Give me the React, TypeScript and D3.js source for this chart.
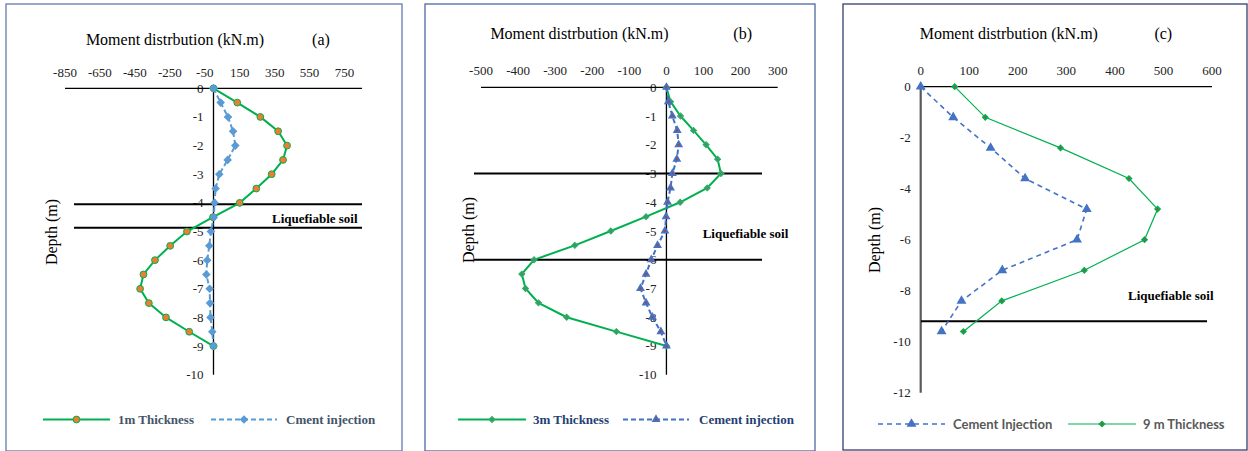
import React from "react";
import * as d3 from "d3";

// ---------- data ----------
const depthAB = [0, -0.5, -1, -1.5, -2, -2.5, -3, -3.5, -4, -4.5, -5, -5.5, -6, -6.5, -7, -7.5, -8, -8.5, -9];
const thick1m = [0, 136, 268, 370, 421, 398, 333, 245, 150, -3, -152, -248, -335, -401, -420, -370, -272, -139, 0];
const cementA = [0, 41, 83, 112, 125, 81, 33, 12, 6, 2, -15, -24, -36, -41, -22, -20, -17, -7, 0];
const thick3m = [0, 11, 38, 73, 107, 138, 147, 110, 37, -55, -150, -247, -357, -390, -380, -345, -269, -135, 0];
const cementB = [0, 5, 16, 29, 33, 28, 16, 11, 3, -1, -4, -24, -41, -55, -70, -55, -38, -15, 0];
const depthC = [0, -1.2, -2.4, -3.6, -4.8, -6, -7.2, -8.4, -9.6];
const cementC = [0, 67, 144, 215, 342, 322, 168, 84, 43];
const thick9m = [70, 133, 288, 429, 488, 461, 337, 167, 88];

const xTicksA = [-850, -650, -450, -250, -50, 150, 350, 550, 750];
const xTicksB = [-500, -400, -300, -200, -100, 0, 100, 200, 300];
const xTicksC = [0, 100, 200, 300, 400, 500, 600];
const yTicksAB = [0, -1, -2, -3, -4, -5, -6, -7, -8, -9, -10];
const yTicksC = [0, -2, -4, -6, -8, -10, -12];
const boundsA = [-4.05, -4.87];
const boundsB = [-3, -6];
const boundsC = [-9.2];

const SERIF = "Liberation Serif, DejaVu Serif, serif";
const SANS = "Lato, Open Sans, sans-serif";

type Marker = { kind: "circle" | "diamond" | "triangle"; r: number; fill: string; stroke?: string; dot?: string };
type Series = { name: string; x: number[]; y: number[]; color: string; width: number; dash?: string; marker: Marker };

function MarkerShape({ m, x, y }: { m: Marker; x: number; y: number }) {
  let path = "";
  let rot = 0;
  if (m.kind === "circle") path = d3.symbol(d3.symbolCircle, Math.PI * m.r * m.r)() as string;
  else if (m.kind === "diamond") {
    path = d3.symbol(d3.symbolSquare, 2 * m.r * m.r)() as string;
    rot = 45;
  } else path = d3.symbol(d3.symbolTriangle, m.r * m.r * 1.7)() as string;
  return (
    <g transform={`translate(${x},${y}) rotate(${rot})`}>
      <path d={path} fill={m.fill} stroke={m.stroke || "none"} strokeWidth={1} />
      {m.dot ? <circle r={1} fill={m.dot} /> : null}
    </g>
  );
}

type PanelProps = {
  frame: [number, number, number, number];
  frameColor: string;
  xDomain: [number, number];
  xRange: [number, number];
  yDomain: [number, number];
  yRange: [number, number];
  xTicks: number[];
  yTicks: number[];
  xLabelY: number;
  title: [number, number];
  letter: string;
  letterX: number;
  yTitleX: number;
  yTitleY: number;
  bounds: number[];
  boundsX: [number, number];
  soil: [number, number];
  series: Series[];
  vAxisColor: string;
  vAxisWidth: number;
  legend: { y: number; items: { lineX: [number, number]; textX: number }[]; font: string; color: string; size: number; weight: string };
};

const serif = (size: number, weight = "normal"): React.CSSProperties => ({ fontFamily: SERIF, fontSize: size + "px", fontWeight: weight as any });

function Panel(p: PanelProps) {
  const x = d3.scaleLinear().domain(p.xDomain).range(p.xRange);
  const y = d3.scaleLinear().domain(p.yDomain).range(p.yRange);
  const [fx, fy, fw, fh] = p.frame;
  return (
    <g>
      <rect x={fx} y={fy} width={fw} height={fh} fill="#fff" stroke={p.frameColor} strokeWidth={1.2} />
      <text x={p.title[0]} y={p.title[1]} textAnchor="middle" style={serif(16)} fill="#000">
        Moment distrbution (kN.m)
      </text>
      <text x={p.letterX} y={p.title[1]} textAnchor="middle" style={serif(16)} fill="#000">
        {p.letter}
      </text>
      {p.xTicks.map((t) => (
        <text key={"xt" + t} x={x(t)} y={p.xLabelY} textAnchor="middle" style={serif(13)} fill="#222">
          {t}
        </text>
      ))}
      {p.yTicks.map((t) => (
        <text key={"yt" + t} x={x(0) - 10} y={y(t) + 4.5} textAnchor="end" style={serif(13)} fill="#222">
          {t}
        </text>
      ))}
      <text transform={`translate(${p.yTitleX},${p.yTitleY}) rotate(-90)`} textAnchor="middle" style={serif(16)} fill="#000">
        Depth (m)
      </text>
      <line x1={p.xRange[0]} x2={p.xRange[1]} y1={y(0)} y2={y(0)} stroke="#000" strokeWidth={1.3} />
      <line x1={x(0)} x2={x(0)} y1={p.yRange[0]} y2={p.yRange[1]} stroke={p.vAxisColor} strokeWidth={p.vAxisWidth} />
      {p.bounds.map((b) => (
        <line key={"b" + b} x1={p.boundsX[0]} x2={p.boundsX[1]} y1={y(b)} y2={y(b)} stroke="#000" strokeWidth={2} />
      ))}
      <text x={p.soil[0]} y={p.soil[1]} style={serif(13, "bold")} fill="#000">
        Liquefiable soil
      </text>
      {p.series.map((s) => {
        const pts = s.x.map((v, i) => [x(v), y(s.y[i])] as [number, number]);
        const line = d3.line()(pts) as string;
        return (
          <g key={s.name}>
            <path d={line} fill="none" stroke={s.color} strokeWidth={s.width} strokeDasharray={s.dash} />
            {pts.map((pt, i) => (
              <MarkerShape key={i} m={s.marker} x={pt[0]} y={pt[1]} />
            ))}
          </g>
        );
      })}
      {p.series.map((s, i) => {
        const it = p.legend.items[i];
        const mid = (it.lineX[0] + it.lineX[1]) / 2;
        return (
          <g key={"lg" + s.name}>
            <line x1={it.lineX[0]} x2={it.lineX[1]} y1={p.legend.y} y2={p.legend.y} stroke={s.color} strokeWidth={s.width} strokeDasharray={s.dash} />
            <MarkerShape m={s.marker} x={mid} y={p.legend.y} />
            <text
              x={it.textX}
              y={p.legend.y + 4.5}
              style={{ fontFamily: p.legend.font, fontSize: p.legend.size + "px", fontWeight: p.legend.weight as any }}
              fill={p.legend.color}
            >
              {s.name}
            </text>
          </g>
        );
      })}
    </g>
  );
}

export default function App() {
  const GREEN = "#00B050";
  return (
    <svg width={1248} height={451} style={{ position: "absolute", left: 0, top: 0, background: "#fff" }}>
      <Panel
        frame={[6, 4, 396, 447]}
        frameColor="#5670a8"
        xDomain={[-850, 850]}
        xRange={[65, 362]}
        yDomain={[0, -10]}
        yRange={[88.3, 374.7]}
        xTicks={xTicksA}
        yTicks={yTicksAB}
        xLabelY={77}
        title={[175, 45]}
        letter="(a)"
        letterX={321}
        yTitleX={57}
        yTitleY={232}
        bounds={boundsA}
        boundsX={[74, 362]}
        soil={[272, 222.5]}
        vAxisColor="#000"
        vAxisWidth={1.3}
        series={[
          { name: "1m Thickness", x: thick1m, y: depthAB, color: GREEN, width: 2, marker: { kind: "circle", r: 3.4, fill: "#ED7D31", stroke: GREEN } },
          { name: "Cment injection", x: cementA, y: depthAB, color: "#5B9BD5", width: 2, dash: "5,3", marker: { kind: "diamond", r: 4.3, fill: "#5B9BD5" } },
        ]}
        legend={{ y: 419.5, font: SERIF, color: "#44546A", size: 13, weight: "bold", items: [{ lineX: [43, 110], textX: 118 }, { lineX: [211, 277], textX: 286 }] }}
      />
      <Panel
        frame={[425, 4, 390, 447]}
        frameColor="#3f5c9c"
        xDomain={[-500, 300]}
        xRange={[481, 777.7]}
        yDomain={[0, -10]}
        yRange={[87.3, 374.7]}
        xTicks={xTicksB}
        yTicks={yTicksAB}
        xLabelY={75}
        title={[579.5, 39]}
        letter="(b)"
        letterX={742.7}
        yTitleX={474}
        yTitleY={230}
        bounds={boundsB}
        boundsX={[474, 762]}
        soil={[702.7, 238]}
        vAxisColor="#000"
        vAxisWidth={1.3}
        series={[
          { name: "3m Thickness", x: thick3m, y: depthAB, color: GREEN, width: 2, marker: { kind: "diamond", r: 3, fill: "#3a9a6a", stroke: "#2fb062" } },
          { name: "Cement injection", x: cementB, y: depthAB, color: "#4472C4", width: 2, dash: "5,3", marker: { kind: "triangle", r: 4.5, fill: "#4472C4", dot: "#c0392b" } },
        ]}
        legend={{ y: 419.5, font: SERIF, color: "#1F3F75", size: 13, weight: "bold", items: [{ lineX: [458, 526], textX: 533 }, { lineX: [623, 689], textX: 699 }] }}
      />
      <Panel
        frame={[843, 4, 404, 446]}
        frameColor="#1f2f66"
        xDomain={[0, 600]}
        xRange={[920.7, 1212]}
        yDomain={[0, -12]}
        yRange={[86.7, 392.7]}
        xTicks={xTicksC}
        yTicks={yTicksC}
        xLabelY={75}
        title={[1008.8, 39]}
        letter="(c)"
        letterX={1163.3}
        yTitleX={880}
        yTitleY={240}
        bounds={boundsC}
        boundsX={[921, 1207]}
        soil={[1128, 299.5]}
        vAxisColor="#595959"
        vAxisWidth={2.2}
        series={[
          { name: "Cement Injection", x: cementC, y: depthC, color: "#4472C4", width: 1.6, dash: "5,4", marker: { kind: "triangle", r: 5, fill: "#4472C4" } },
          { name: "9 m Thickness", x: thick9m, y: depthC, color: GREEN, width: 1.2, marker: { kind: "diamond", r: 3.6, fill: GREEN, dot: "#d23a2a" } },
        ]}
        legend={{ y: 424, font: SANS, color: "#595959", size: 13, weight: "bold", items: [{ lineX: [878, 945], textX: 953 }, { lineX: [1068, 1136], textX: 1143 }] }}
      />
    </svg>
  );
}
